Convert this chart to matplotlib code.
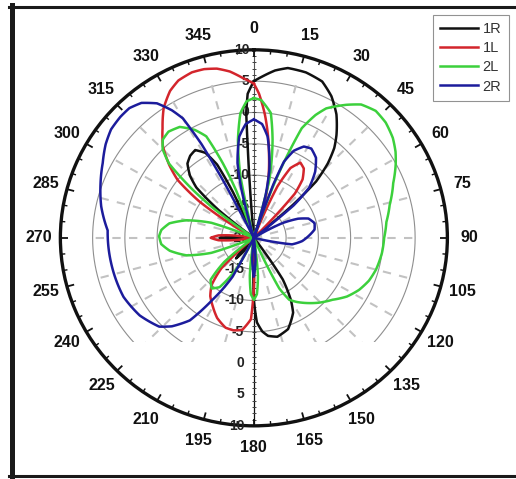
import numpy as np
import matplotlib
matplotlib.use("Agg")
import matplotlib.pyplot as plt
from matplotlib.patches import Rectangle
from matplotlib.lines import Line2D

# radiation patterns: angle in degrees (clockwise from top), gain in dB
ang_1R = [0, 3, 7, 11, 17, 23, 28, 33, 38, 41, 44, 47, 49, 51,
          143, 146, 150, 153, 160, 167, 172, 175, 178, 180, 182,
          212, 216, 220, 224, 228,
          264, 267, 270, 273, 276,
          307, 309, 312, 315, 319, 323, 327, 331, 334, 336, 338,
          355, 356.2, 356.6, 357.6, 360]
db_1R = [5.0, 5.8, 6.9, 7.6, 7.6, 7.1, 5.6, 3.5, 0.8, -1.0, -3.5, -6.8, -12, -20,
         -20, -12, -8.5, -6.6, -4.5, -3.8, -4.2, -5.0, -6.5, -10, -20,
         -20, -17.5, -15.7, -17.5, -20,
         -20, -17, -14.7, -17, -20,
         -20, -13, -8, -6, -4.3, -3.6, -3.3, -4.5, -7, -12, -20,
         -20, -6, 0, 3, 5.0]

ang_1L = [0, 2, 5, 8, 10, 14, 17, 19,
          21, 24, 27, 31, 35, 39, 42, 45,
          178, 180, 182, 187, 192, 197, 204, 210, 216, 221, 226, 230,
          261, 263, 266, 270, 274, 277, 279,
          300, 302, 304.5, 308, 311.5, 316, 321, 326, 331, 335, 340, 344, 348, 352, 356, 360]
db_1L = [4.6, 3.0, -0.3, -4, -6.5, -11, -14.5, -20,
         -20, -11, -7.5, -6.0, -6.5, -8, -10.5, -20,
         -20, -12, -7, -5.2, -4.9, -5, -6, -7.3, -8.5, -10, -13, -20,
         -20, -17, -14.5, -13.3, -14.5, -17, -20,
         -20, -15, -9.7, -5, -2.5, 0.3, 2.5, 5, 6.8, 7.7, 8.1, 8.0, 7.6, 6.8, 5.6, 4.6]

ang_2L = [0, 3, 7.5, 10.5, 14.5, 16.5,
          18, 20, 21, 23, 26, 28.5, 34, 38, 43, 48, 53.5, 58, 62, 68, 76, 83, 90,
          97, 105, 111, 117, 123, 129, 136, 142, 147, 151, 154, 157,
          171, 174, 177, 180, 183, 186, 189,
          205, 209, 214, 219, 225, 230, 234,
          247, 250, 255, 261, 266, 271, 275, 280, 285, 290, 293,
          305, 307, 309, 312, 315, 318, 322, 327, 332, 335.5, 338, 340, 341.5,
          346, 348, 351, 354, 357, 360]
db_2L = [2.3, 2.0, 0.1, -4.1, -10.4, -20,
         -20, -11, -7.5, -1, 1.8, 3.5, 5.6, 7.0, 7.7, 7.5, 6.8, 5.9, 4.9, 3.3, 1.7, 0.7, 0.2,
         0.0, -0.4, -0.9, -1.7, -2.8, -4.3, -5.6, -6.8, -7.8, -8.7, -11, -20,
         -20, -14, -11, -10.1, -11, -14, -20,
         -20, -14, -10.5, -9.6, -10.5, -14, -20,
         -20, -13, -9.2, -6.8, -5.6, -5.3, -5.6, -6.7, -9.2, -13, -20,
         -20, -12, -7.8, -2.3, 0, 1.1, 1.5, 1.1, -0.5, -2.2, -7.2, -12, -20,
         -20, -10, -4.2, 0, 1.8, 2.3]

ang_2R = [0, 4, 7.5, 12.5, 15, 17,
          18, 19.5, 21, 24, 28, 32, 37, 42, 47, 50, 52,
          58, 62, 66, 70, 76, 82, 88, 94, 100, 104,
          173, 176, 180, 184, 187,
          207, 208, 213, 217, 222, 226, 235, 245, 260, 273, 282, 290, 297, 303, 308,
          313, 317, 321, 325, 328, 330, 331.5, 332.5, 333,
          344, 346, 348, 352, 356, 360]
db_2R = [-1.1, -1.8, -3.7, -8.9, -13, -20,
         -20, -11, -7, -4.8, -3.5, -3.2, -4, -5.8, -8.3, -12, -20,
         -20, -15, -12.5, -11, -10.3, -10.5, -11.5, -12.5, -14, -20,
         -20, -16.5, -13.8, -16.5, -20,
         -20, -13, -8.2, -3.5, -1, 0.4, 1.6, 2.3, 2.5, 2.7, 4.2, 5.3, 6.3, 7.4, 8.1,
         8.3, 8.3, 7.7, 6.2, 4, 2, -3, -10, -20,
         -20, -12, -7.8, -3.7, -1.8, -1.1]

series_names = ["1R", "1L", "2L", "2R"]
series_angles = [ang_1R, ang_1L, ang_2L, ang_2R]
series_db = [db_1R, db_1L, db_2L, db_2R]
series_colors = ["#111111", "#d3252c", "#3cd03c", "#1c1c9c"]

r_min, r_max = -20, 10
ring_levels = [-15, -10, -5, 0, 5]
upper_labels = [10, 5, 0, -5, -10, -15, -20]
lower_labels = [-15, -10, -5, 0, 5, 10]
angle_labels = list(range(0, 360, 15))

W, H = 516, 479


def px(x, y):
    """pixel position (from top-left) -> figure fraction"""
    return x / W, 1 - y / H


def main():
    plt.rcParams["font.family"] = ["Liberation Sans", "DejaVu Sans"]
    fig = plt.figure(figsize=(W / 100, H / 100), dpi=100, facecolor="white")

    ax = fig.add_axes([0.117, 0.111, 0.75, 0.785], projection="polar")
    ax.set_aspect("auto")
    ax.set_theta_zero_location("N")
    ax.set_theta_direction(-1)
    ax.set_rlim(r_min, r_max)
    ax.grid(False)
    ax.set_xticks([])
    ax.set_yticks([])
    ax.spines["polar"].set_linewidth(2.4)
    ax.spines["polar"].set_color("#111")

    # the grid fades out in the lower part of the original
    clip_box = Rectangle((0, 0.285), 1, 0.715, transform=fig.transFigure)

    th = np.linspace(0, 2 * np.pi, 361)
    for lev in ring_levels:
        ln, = ax.plot(th, np.full_like(th, lev), color="#8e8e8e", lw=0.8, zorder=1)
        ln.set_clip_path(clip_box)
    for a in range(0, 360, 15):
        if a in (0, 180):
            continue
        t = np.radians(a)
        ln, = ax.plot([t, t], [r_min, 5.5], color="#c2c2c2", lw=1.5,
                      dashes=(4, 4), zorder=1)
        ln.set_clip_path(clip_box)

    # vertical radial axis with ticks
    ax.plot([0, 0], [r_min, r_max], color="#555", lw=0.8, zorder=2)
    ax.plot([np.pi, np.pi], [r_min, r_max], color="#111", lw=0.9, zorder=2)
    minor = np.arange(r_min + 1, r_max)
    for t in (0, np.pi):
        ax.plot(np.full(len(minor), t), minor, ls="none", marker="_", ms=3,
                mew=0.7, color="#444", zorder=2)

    # ticks on the outer ring
    for a in range(0, 360, 5):
        t = np.radians(a)
        major = a % 15 == 0
        ax.plot([t, t], [8.85 if major else 9.35, r_max], color="#111",
                lw=1.3 if major else 1.0, solid_capstyle="butt", zorder=3)

    for name, angs, vals, col in zip(series_names, series_angles, series_db, series_colors):
        ln, = ax.plot(np.radians(angs), vals, color=col, lw=1.8, label=name,
                      solid_joinstyle="round", zorder=4)
        # draw each segment curved in polar space instead of as a chord
        ln.get_path()._interpolation_steps = 16

    for a in angle_labels:
        ax.text(np.radians(a), 13.4, str(a), ha="center", va="center",
                fontsize=11.5, fontweight="bold", color="#111")

    for v in upper_labels:
        ax.annotate(str(v), xy=(0, v), xytext=(-3, 0), textcoords="offset points",
                    ha="right", va="center", fontsize=10, fontweight="bold",
                    color="#222", zorder=3)
    for v in lower_labels:
        ax.annotate(str(v), xy=(np.pi, v), xytext=(-7, 0), textcoords="offset points",
                    ha="right", va="center", fontsize=10, fontweight="bold",
                    color="#222", zorder=3)

    leg = fig.legend(loc="upper left", bbox_to_anchor=px(433, 15), frameon=True,
                     fancybox=False, edgecolor="#777", fontsize=10.5,
                     handlelength=2.6, handletextpad=0.3, labelspacing=0.35,
                     borderpad=0.5, borderaxespad=0)
    leg.get_frame().set_linewidth(0.8)
    for txt in leg.get_texts():
        txt.set_color("#333")

    # thick border of the picture
    fig.add_artist(Line2D(*zip(px(11.5, 5), px(11.5, 477)), color="#1a1a1a", lw=3.6,
                          transform=fig.transFigure))
    fig.add_artist(Line2D(*zip(px(9, 6.5), px(516, 6.5)), color="#1a1a1a", lw=2.2,
                          transform=fig.transFigure))
    fig.add_artist(Line2D(*zip(px(9, 475.5), px(516, 475.5)), color="#1a1a1a", lw=2.2,
                          transform=fig.transFigure))

    fig.savefig("out.png", dpi=100, facecolor="white")


if __name__ == "__main__":
    main()
